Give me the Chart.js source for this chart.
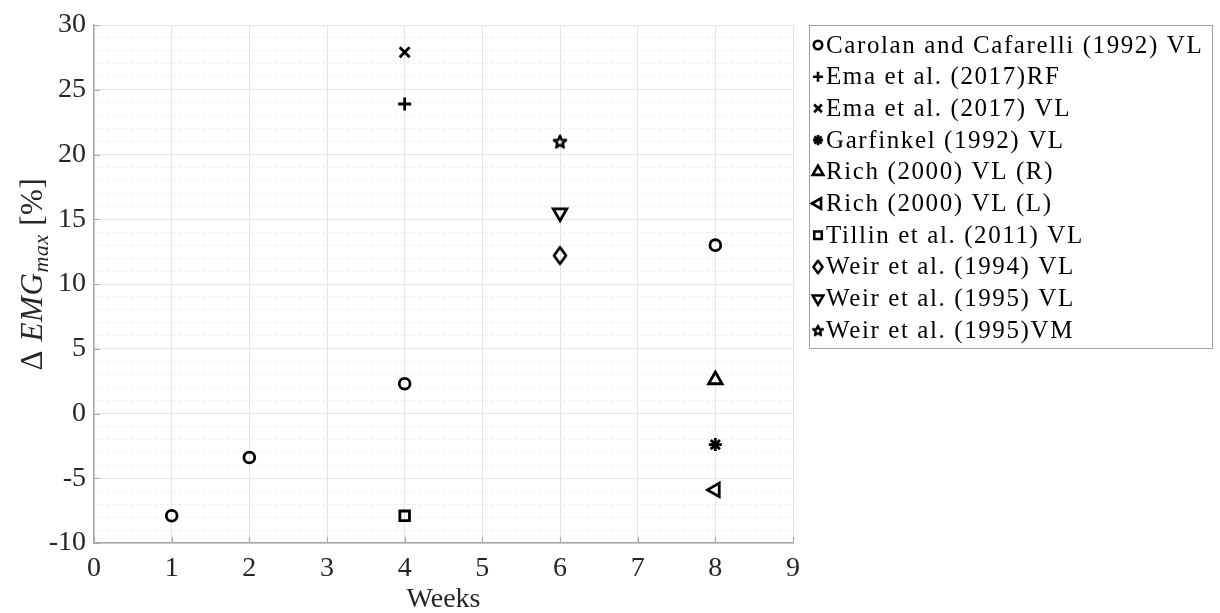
<!DOCTYPE html>
<html>
<head>
<meta charset="utf-8">
<script src="https://cdn.jsdelivr.net/npm/chart.js@4.4.1/dist/chart.umd.min.js"></script>
<style>
  html, body { margin: 0; padding: 0; background: #ffffff; }
  canvas { display: block; }
</style>
</head>
<body>
<canvas id="emgChart" width="1220" height="613"></canvas>
<script>
// ---- Study data: training duration (weeks) vs change in maximal EMG (%) ----
const studyLabels = [
  'Carolan and Cafarelli (1992) VL',
  'Ema et al. (2017)RF',
  'Ema et al. (2017) VL',
  'Garfinkel (1992) VL',
  'Rich (2000) VL (R)',
  'Rich (2000) VL (L)',
  'Tillin et al. (2011) VL',
  'Weir et al. (1994) VL',
  'Weir et al. (1995) VL',
  'Weir et al. (1995)VM'
];

const carolanWeeks = [1, 2, 4, 8];
const carolanEmg   = [-7.9, -3.4, 2.3, 13.0];
const emaRfWeeks   = [4];
const emaRfEmg     = [23.9];
const emaVlWeeks   = [4];
const emaVlEmg     = [27.9];
const garfinkelWeeks = [8];
const garfinkelEmg   = [-2.4];
const richRWeeks   = [8];
const richREmg     = [2.6];
const richLWeeks   = [8];
const richLEmg     = [-5.9];
const tillinWeeks  = [4];
const tillinEmg    = [-7.9];
const weir94Weeks  = [6];
const weir94Emg    = [12.2];
const weir95VlWeeks = [6];
const weir95VlEmg   = [15.5];
const weir95VmWeeks = [6];
const weir95VmEmg   = [21.0];

const xTickValues = [0, 1, 2, 3, 4, 5, 6, 7, 8, 9];
const yMajorStep = 5;

// ---- Marker images for shapes Chart.js lacks ----
function makeMarker(w, h, lw, draw) {
  const c = document.createElement('canvas');
  c.width = w; c.height = h;
  const g = c.getContext('2d');
  g.strokeStyle = '#000'; g.lineWidth = lw; g.lineJoin = 'round';
  draw(g, w / 2, h / 2);
  return c;
}
function diamondPath(g, cx, cy, hw, hh) {
  g.beginPath();
  g.moveTo(cx, cy - hh); g.lineTo(cx + hw, cy); g.lineTo(cx, cy + hh); g.lineTo(cx - hw, cy);
  g.closePath(); g.stroke();
}
function pentagramPath(g, cx, cy, ro, ri) {
  g.beginPath();
  for (let k = 0; k < 10; k++) {
    const r = k % 2 === 0 ? ro : ri;
    const a = -Math.PI / 2 + k * Math.PI / 5;
    const px = cx + r * Math.cos(a), py = cy + 0.6 + r * Math.sin(a);
    if (k === 0) g.moveTo(px, py); else g.lineTo(px, py);
  }
  g.closePath(); g.stroke();
}
const diamondMarker = makeMarker(20, 24, 2.7, (g, cx, cy) => diamondPath(g, cx, cy, 6, 8.3));
const pentagramMarker = makeMarker(18, 18, 2.5, (g, cx, cy) => pentagramPath(g, cx, cy, 6.4, 2.8));
const diamondLegend = makeMarker(16, 18, 2.5, (g, cx, cy) => diamondPath(g, cx, cy, 4.6, 6.2));
const pentagramLegend = makeMarker(16, 16, 2.3, (g, cx, cy) => pentagramPath(g, cx, cy, 5.2, 2.3));

function toPoints(xs, ys) { return xs.map((x, i) => ({ x: x, y: ys[i] })); }

const seriesDefs = [
  { data: toPoints(carolanWeeks, carolanEmg),     style: 'circle',   r: 5.4, rot: 0 },
  { data: toPoints(emaRfWeeks, emaRfEmg),         style: 'cross',    r: 6.5, rot: 0 },
  { data: toPoints(emaVlWeeks, emaVlEmg),         style: 'crossRot', r: 7.0, rot: 0 },
  { data: toPoints(garfinkelWeeks, garfinkelEmg), style: 'star',     r: 6.5, rot: 0 },
  { data: toPoints(richRWeeks, richREmg),         style: 'triangle', r: 7.8, rot: 0 },
  { data: toPoints(richLWeeks, richLEmg),         style: 'triangle', r: 7.8, rot: -90 },
  { data: toPoints(tillinWeeks, tillinEmg),       style: 'rect',     r: 6.8, rot: 0 },
  { data: toPoints(weir94Weeks, weir94Emg),       style: diamondMarker,   r: 8, rot: 0, legend: diamondLegend },
  { data: toPoints(weir95VlWeeks, weir95VlEmg),   style: 'triangle', r: 7.8, rot: 180 },
  { data: toPoints(weir95VmWeeks, weir95VmEmg),   style: pentagramMarker, r: 8, rot: 0, legend: pentagramLegend }
];

const datasets = seriesDefs.map((s, i) => ({
  label: studyLabels[i],
  data: s.data,
  pointStyle: s.style,
  pointRadius: s.r,
  pointHoverRadius: s.r,
  pointRotation: s.rot,
  pointBorderWidth: 2.8,
  borderColor: '#000000',
  backgroundColor: 'rgba(0,0,0,0)',
  showLine: false,
  legendStyle: s.legend || s.style
}));

const SERIF = '"Liberation Serif", "Times New Roman", serif';
const AXIS_GREY = '#a9a9a9';

// Inward tick marks on the left and bottom axes
const inwardTicks = {
  id: 'inwardTicks',
  afterDatasetsDraw(chart) {
    const { ctx, chartArea, scales } = chart;
    ctx.save();
    ctx.strokeStyle = AXIS_GREY;
    ctx.lineWidth = 1.2;
    ctx.beginPath();
    scales.y.ticks.forEach(t => {
      if (t.value % yMajorStep !== 0) return;
      const py = Math.round(scales.y.getPixelForValue(t.value)) + 0.5;
      ctx.moveTo(chartArea.left, py); ctx.lineTo(chartArea.left + 6, py);
    });
    scales.x.ticks.forEach(t => {
      const px = Math.round(scales.x.getPixelForValue(t.value)) + 0.5;
      ctx.moveTo(px, chartArea.bottom); ctx.lineTo(px, chartArea.bottom - 6);
    });
    ctx.stroke();
    ctx.restore();
  }
};

// Y-axis title with math-style subscript
const yTitle = {
  id: 'yTitle',
  afterDraw(chart) {
    const ctx = chart.ctx;
    const main = '31px ' + SERIF;
    const ital = 'italic 31px ' + SERIF;
    const sub = 'italic 22px ' + SERIF;
    const parts = [
      { t: '\u0394 ', f: main, dy: 0 },
      { t: 'EMG', f: ital, dy: 0 },
      { t: 'max', f: sub, dy: 6 },
      { t: ' [%]', f: main, dy: 0 }
    ];
    ctx.save();
    ctx.letterSpacing = '0.6px';
    let total = 0;
    parts.forEach(p => { ctx.font = p.f; p.w = ctx.measureText(p.t).width; total += p.w; });
    const centerY = (chart.chartArea.top + chart.chartArea.bottom) / 2 - 10;
    ctx.translate(42, centerY + total / 2);
    ctx.rotate(-Math.PI / 2);
    ctx.fillStyle = '#262626';
    ctx.textBaseline = 'alphabetic';
    let x = 0;
    parts.forEach(p => { ctx.font = p.f; ctx.fillText(p.t, x, p.dy); x += p.w; });
    ctx.restore();
  }
};

// Boxed legend to the right of the plot
const boxedLegend = {
  id: 'boxedLegend',
  afterDraw(chart) {
    const ctx = chart.ctx;
    const left = 809, top = 25, right = 1212, bottom = 348;
    const rowTop = 45, rowStep = 31.7;
    ctx.save();
    ctx.fillStyle = '#ffffff';
    ctx.fillRect(left, top, right - left, bottom - top);
    ctx.strokeStyle = '#a0a0a0';
    ctx.lineWidth = 1;
    ctx.strokeRect(left + 0.5, top + 0.5, right - left, bottom - top);
    chart.data.datasets.forEach((ds, i) => {
      const y = rowTop + i * rowStep;
      ctx.strokeStyle = '#000000';
      ctx.fillStyle = 'rgba(0,0,0,0)';
      ctx.lineWidth = 2.6;
      Chart.helpers.drawPoint(ctx, {
        pointStyle: ds.legendStyle,
        rotation: ds.pointRotation,
        radius: ds.pointRadius * 0.78,
        borderWidth: 2.6
      }, 818, y);
      ctx.fillStyle = '#000000';
      ctx.font = '25px ' + SERIF;
      ctx.letterSpacing = '1.6px';
      ctx.textBaseline = 'middle';
      ctx.textAlign = 'left';
      ctx.fillText(ds.label, 826, y + 1);
    });
    ctx.restore();
  }
};

Chart.defaults.font.family = SERIF;

new Chart(document.getElementById('emgChart'), {
  type: 'scatter',
  data: { datasets: datasets },
  options: {
    responsive: false,
    devicePixelRatio: 1,
    animation: false,
    layout: { padding: { left: 0, right: 427, top: 25, bottom: 0 } },
    plugins: {
      legend: { display: false },
      tooltip: { enabled: false }
    },
    scales: {
      x: {
        type: 'linear',
        min: 0,
        max: 9,
        afterBuildTicks(scale) { scale.ticks = xTickValues.map(v => ({ value: v })); },
        afterFit(scale) { scale.height = 70; },
        ticks: {
          stepSize: 1,
          color: '#262626',
          font: { size: 28 },
          padding: 9,
          maxRotation: 0
        },
        grid: { color: '#e4e4e4', lineWidth: 1, drawTicks: false },
        border: { color: AXIS_GREY, width: 1.5 },
        title: {
          display: true,
          text: 'Weeks',
          color: '#262626',
          font: { size: 28 },
          padding: { top: 0, bottom: -3 }
        }
      },
      y: {
        type: 'linear',
        min: -10,
        max: 30,
        afterFit(scale) { scale.width = 94; },
        ticks: {
          stepSize: 1,
          maxTicksLimit: 41,
          autoSkip: false,
          color: '#262626',
          font: { size: 28 },
          padding: 8,
          callback: v => (v % yMajorStep === 0 ? String(v) : '')
        },
        grid: {
          drawTicks: false,
          lineWidth: 1,
          color: c => (c.tick && c.tick.value % yMajorStep !== 0 ? '#ededed' : '#e4e4e4')
        },
        border: {
          color: AXIS_GREY,
          width: 1.5,
          dash: c => (c.tick && c.tick.value % yMajorStep !== 0 ? [3, 3] : [])
        }
      }
    }
  },
  plugins: [inwardTicks, yTitle, boxedLegend]
});
</script>
</body>
</html>
